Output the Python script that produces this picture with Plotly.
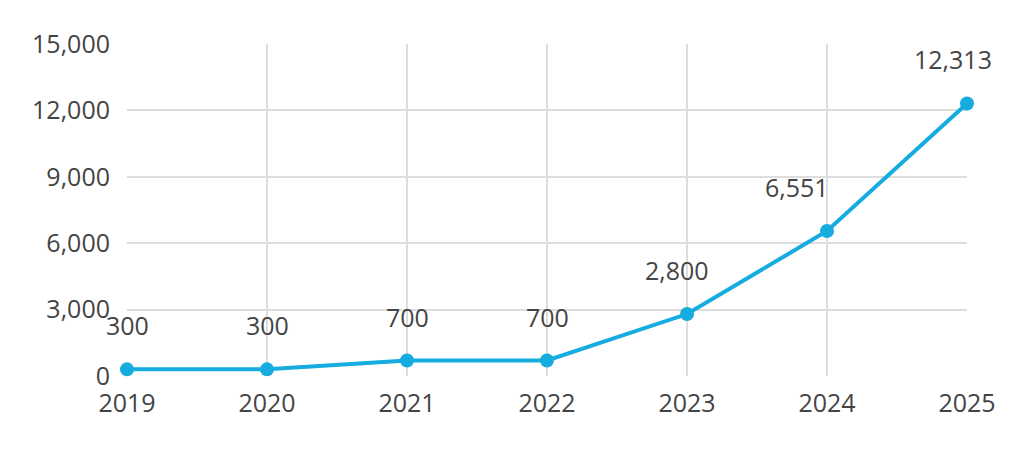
import plotly.graph_objs as go

years = [2019, 2020, 2021, 2022, 2023, 2024, 2025]
values = [300, 300, 700, 700, 2800, 6551, 12313]
labels = ["300", "300", "700", "700", "2,800", "6,551", "12,313"]
label_dx = [0, 0, 0, 0, -10, -30, -14]

line_color = "#16ACE0"
text_color = "#444444"

fig = go.Figure()

fig.add_trace(go.Scatter(
    x=years,
    y=values,
    mode="lines+markers",
    line=dict(color=line_color, width=4),
    marker=dict(color=line_color, size=14),
    cliponaxis=False,
    hoverinfo="skip",
))

for x, y, t, dx in zip(years, values, labels, label_dx):
    fig.add_annotation(x=x, y=y, text=t, showarrow=False,
                       xshift=dx, yshift=44,
                       font=dict(size=25, color=text_color))

fig.update_layout(
    width=1024, height=452,
    margin=dict(l=119, r=65, t=36, b=84),
    plot_bgcolor="white",
    paper_bgcolor="white",
    showlegend=False,
    font=dict(family="Open Sans", size=25, color=text_color),
)

fig.update_xaxes(range=[2019, 2025], dtick=1, showgrid=True, gridcolor="#DDDDDD",
                 gridwidth=2, zeroline=False, showline=False, ticks="",
                 ticklabelstandoff=10,
                 tickfont=dict(size=25, color=text_color))
fig.update_yaxes(range=[0, 15000], dtick=3000, tickformat=",", showgrid=True,
                 gridcolor="#DDDDDD", gridwidth=2, zeroline=False,
                 ticklabelstandoff=16,
                 tickfont=dict(size=25, color=text_color))

fig.write_html("out.html")
